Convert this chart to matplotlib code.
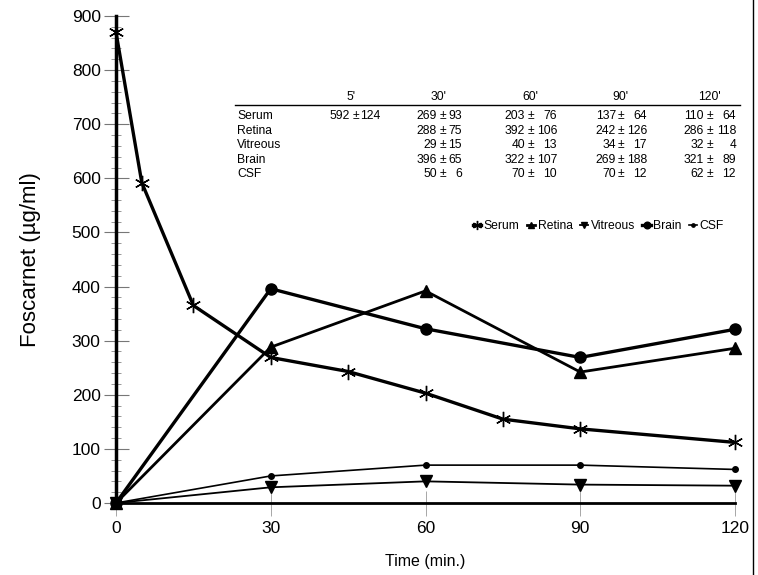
import matplotlib
matplotlib.use("Agg")
import matplotlib.pyplot as plt
from matplotlib.lines import Line2D
from matplotlib.ticker import MultipleLocator

plt.rcParams['font.family'] = ['Liberation Sans', 'DejaVu Sans']

# data
serum_t = [0, 5, 15, 30, 45, 60, 75, 90, 120]
serum = [870, 592, 365, 269, 243, 203, 155, 137, 112]
t = [0, 30, 60, 90, 120]
retina = [0, 288, 392, 242, 286]
vitreous = [0, 29, 40, 34, 32]
brain = [0, 396, 322, 269, 321]
csf = [0, 50, 70, 70, 62]

# table in the plot (mean +- sd)
tab_cols = ["5'", "30'", "60'", "90'", "120'"]
tab_rows = ["Serum", "Retina", "Vitreous", "Brain", "CSF"]
tab_mean = [
    [592, 269, 203, 137, 110],
    [None, 288, 392, 242, 286],
    [None, 29, 40, 34, 32],
    [None, 396, 322, 269, 321],
    [None, 50, 70, 70, 62],
]
tab_sd = [
    [124, 93, 76, 64, 64],
    [None, 75, 106, 126, 118],
    [None, 15, 13, 17, 4],
    [None, 65, 107, 188, 89],
    [None, 6, 10, 12, 12],
]

W, H = 758, 575
fig = plt.figure(figsize=(W / 100, H / 100), dpi=100)
ax = fig.add_axes([116 / W, 1 - 503 / H, (735 - 116) / W, (503 - 16) / H])

ax.plot(serum_t, serum, color='black', lw=2.4, marker=(6, 2, 0), ms=11, mew=1.0,
        label='Serum', clip_on=False, zorder=5)
ax.plot(t, retina, color='black', lw=2.0, marker='^', ms=8, label='Retina', clip_on=False)
ax.plot(t, vitreous, color='black', lw=1.3, marker='v', ms=8, label='Vitreous', clip_on=False)
ax.plot(t, brain, color='black', lw=2.4, marker='o', ms=8, label='Brain', clip_on=False)
ax.plot(t, csf, color='black', lw=1.2, marker='o', ms=4, label='CSF', clip_on=False)

ax.set_xlim(0, 120)
ax.set_ylim(0, 900)
ax.set_xticks(t)
ax.yaxis.set_major_locator(MultipleLocator(100))
ax.yaxis.set_minor_locator(MultipleLocator(20))

for s in ['top', 'right']:
    ax.spines[s].set_visible(False)
ax.spines['left'].set_linewidth(2.5)
ax.spines['bottom'].set_linewidth(2.0)

ax.tick_params(axis='y', which='major', direction='inout', length=18, width=0.8,
               color='#777777', labelsize=12.5, pad=2)
ax.tick_params(axis='y', which='minor', direction='inout', length=7, width=0.6,
               color='#888888')
ax.tick_params(axis='x', which='major', direction='inout', length=18, width=0.6,
               color='#999999', labelsize=12.5, pad=4)

ax.set_ylabel('Foscarnet (µg/ml)', fontsize=16, labelpad=22)
ax.set_xlabel('Time (min.)', fontsize=11.5, labelpad=13)

ax.legend(loc='upper left', bbox_to_anchor=(462 / W, 1 - 209 / H), bbox_transform=fig.transFigure,
          ncol=5, frameon=False, fontsize=8.7, handlelength=0.7, handletextpad=0.2,
          columnspacing=0.6, markerscale=0.6)

# table
fs = 8.7
fig.add_artist(Line2D([235 / W, 740 / W], [1 - 105 / H, 1 - 105 / H], color='black', lw=1.0))
head_x = [351, 438, 530, 620, 709]
mean_x = [350, 437, 525, 616, 704]
pm_x = [356, 443, 531, 621, 710]
sd_x = [380, 462, 557, 647, 736]
row_y = [116, 131, 145, 160, 174]
for j, c in enumerate(tab_cols):
    fig.text(head_x[j] / W, 1 - 97 / H, c, fontsize=fs, ha='center', va='center')
for i, r in enumerate(tab_rows):
    y = 1 - row_y[i] / H
    fig.text(237 / W, y, r, fontsize=fs, ha='left', va='center')
    for j in range(len(tab_cols)):
        if tab_mean[i][j] is None:
            continue
        fig.text(mean_x[j] / W, y, f"{tab_mean[i][j]}", fontsize=fs, ha='right', va='center')
        fig.text(pm_x[j] / W, y, "±", fontsize=fs, ha='center', va='center')
        fig.text(sd_x[j] / W, y, f"{tab_sd[i][j]}", fontsize=fs, ha='right', va='center')

# page frame line at right edge
fig.add_artist(Line2D([753 / W, 753 / W], [0, 1], color='black', lw=1.0))

fig.savefig('out.png', dpi=100)
